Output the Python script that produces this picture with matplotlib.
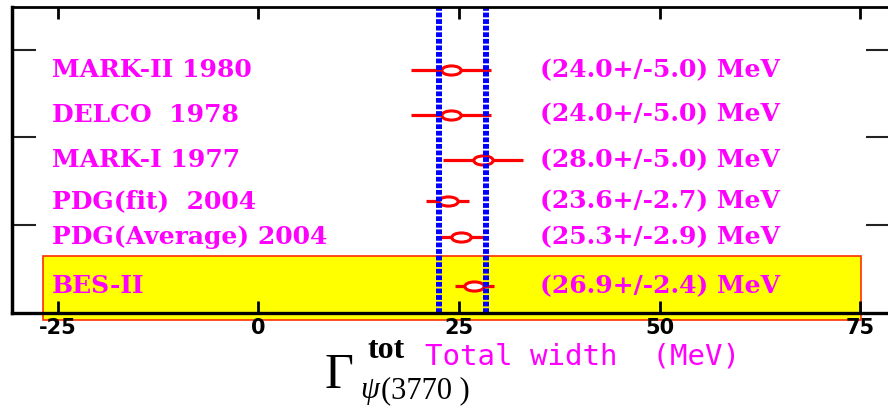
import matplotlib
matplotlib.use("Agg")
import matplotlib.pyplot as plt
from matplotlib.path import Path
from matplotlib.transforms import Affine2D
from matplotlib.patches import Rectangle

# ---- data ----
experiments = ["MARK-II 1980", "DELCO  1978", "MARK-I 1977",
               "PDG(fit)  2004", "PDG(Average) 2004", "BES-II"]
widths = [24.0, 24.0, 28.0, 23.6, 25.3, 26.9]
errors = [5.0, 5.0, 5.0, 2.7, 2.9, 2.4]
band_lines = [22.5, 28.4]
xticks = [-25, 0, 25, 50, 75]
yticks = [1, 2, 3]

# ---- layout (not data) ----
row_y = [2.765, 2.26, 1.745, 1.275, 0.857, 0.298]
W, H = 888, 407
MAG = "#ff00ff"

fig = plt.figure(figsize=(W / 100, H / 100), dpi=100)
ax = fig.add_axes([12 / W, (H - 312.5) / H, (890 - 12) / W, (312.5 - 7) / H])
ax.set_xlim(-30.7, 78.7)
ax.set_ylim(0, 3.49)

# highlighted box for BES-II
ax.add_patch(Rectangle((-26.85, -0.086), 75.08 + 26.85, 0.646 + 0.086,
                       facecolor="#ffff00", edgecolor="#ff3000", lw=1.2,
                       clip_on=False, zorder=0.5))

# error bars
ax.errorbar(widths, row_y, xerr=errors, fmt="none", ecolor="#ff0000",
            elinewidth=2.3, capsize=0, zorder=2)
ell = Affine2D().scale(1.0, 0.47).transform_path(Path.unit_circle())
ax.plot(widths, row_y, linestyle="none", marker=ell, markersize=14,
        markerfacecolor="white", markeredgecolor="#ff0000",
        markeredgewidth=2.2, zorder=3)

# blue dotted band lines
for xv in band_lines:
    ax.axvline(xv, color="#0000ff", lw=4.3, linestyle=(0, (0.8, 0.3)),
               zorder=4)

# labels
for name, w, e, y in zip(experiments, widths, errors, row_y):
    ax.text(-25.7, y, name, color=MAG, fontsize=18, fontweight="bold",
            family="DejaVu Serif", ha="left", va="center", zorder=5)
    ax.text(35.1, y, f"({w:.1f}+/-{e:.1f}) MeV", color=MAG, fontsize=18,
            fontweight="bold", family="DejaVu Serif", ha="left",
            va="center", zorder=5)

# axes styling
ax.set_xticks(xticks)
ax.set_xticklabels([str(t) for t in xticks], fontsize=15, fontweight="bold",
                   family="DejaVu Sans")
ax.set_yticks(yticks)
ax.set_yticklabels([])
ax.tick_params(axis="x", direction="in", length=8.6, width=2.0, top=True,
               bottom=True, pad=4, colors="black")
ax.tick_params(axis="y", direction="in", length=17, width=1.5, left=True,
               right=True, colors="#222222")
ax.spines["left"].set_linewidth(2.5)
ax.spines["bottom"].set_linewidth(2.4)
ax.spines["top"].set_linewidth(2.0)
ax.spines["right"].set_visible(False)
for s in ax.spines.values():
    s.set_zorder(6)

# axis title pieces
def fx(px):
    return px / W

def fy(py):
    return 1 - py / H

fig.text(fx(325), fy(388), "Γ", family="Liberation Serif", fontsize=36,
         ha="left", va="baseline", color="black")
fig.text(fx(367), fy(358), "tot", family="Liberation Serif", fontsize=23,
         fontweight="bold", ha="left", va="baseline", color="black")
fig.text(fx(360), fy(398), "ψ", family="Liberation Serif", fontsize=22,
         style="italic", ha="left", va="baseline", color="black")
fig.text(fx(381), fy(398), "(3770 )", family="Liberation Serif", fontsize=22,
         ha="left", va="baseline", color="black")
fig.text(fx(425), fy(365), "Total width  (MeV)", family="DejaVu Sans Mono",
         fontsize=21, ha="left", va="baseline", color=MAG)

fig.savefig("out.png", dpi=100)
